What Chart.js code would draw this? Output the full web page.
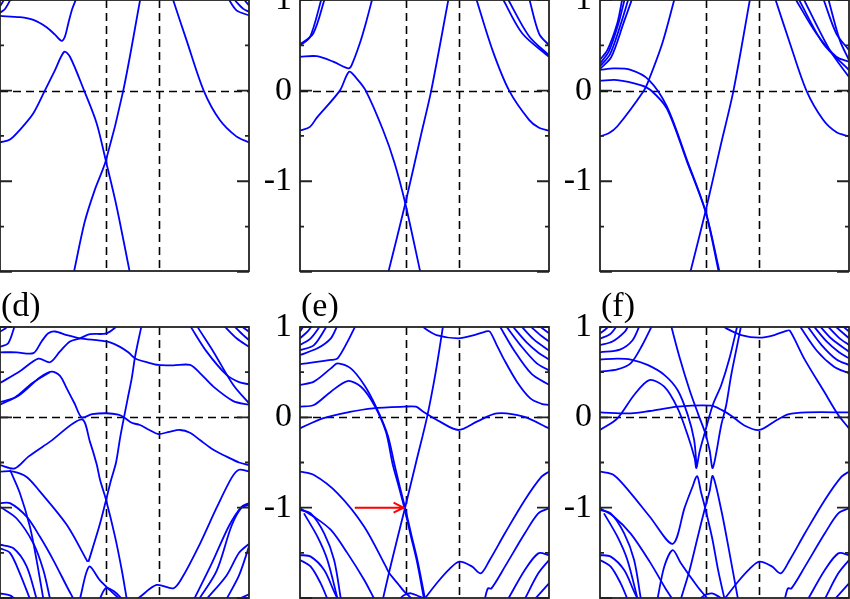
<!DOCTYPE html>
<html>
<head>
<meta charset="utf-8">
<script src="https://cdn.jsdelivr.net/npm/chart.js@4.4.1/dist/chart.umd.min.js"></script>
<style>
  html, body { margin: 0; padding: 0; background: #fff; }
  body { width: 850px; height: 599px; overflow: hidden; position: relative; }
  canvas { position: absolute; }
</style>
</head>
<body>
<script>
// k runs 0..1 along the path in every panel, energies in eV
const kLines = [0.426, 0.639];
const yTickLabels = [-1, 0, 1];
const yMajorTicks = [-2, -1, 0, 1];
const yMinorTicks = [-1.5, -0.5, 0.5];
const panelLabels = ['(a)', '(b)', '(c)', '(d)', '(e)', '(f)'];
const arrowTail = [0.22, -1.0];
const arrowTip = [0.416, -1.0];

// each band is a list of [k, E]
const bandsA = [
  [[0,0.824],[0.08,0.81],[0.134,0.78],[0.187,0.70],[0.22,0.62],[0.247,0.55],[0.26,0.59],[0.275,0.75],[0.29,0.90],[0.307,1.02]],
  [[0,-0.571],[0.04,-0.54],[0.08,-0.432],[0.134,-0.249],[0.18,0],[0.221,0.227],[0.258,0.429],[0.281,0.374],[0.338,0],[0.388,-0.359],[0.425,-0.773],[0.468,-1.275],[0.521,-2.0]],
  [[0.297,-2.0],[0.34,-1.45],[0.38,-1.1],[0.425,-0.773],[0.495,0],[0.564,1.02]],
  [[0.693,1.02],[0.749,0.557],[0.818,0],[0.882,-0.322],[0.949,-0.505],[1,-0.571]],
  [[0,0.86],[0.02,0.9],[0.045,1.02]],
  [[0,0.93],[0.02,1.02]],
  [[0.916,1.02],[0.95,0.886],[1,0.83]],
  [[0.936,1.02],[0.976,0.905],[1,0.87]],
  [[0.976,1.02],[1,0.94]]
];

const bandsB = [
  [[0,0.374],[0.067,0.38],[0.133,0.32],[0.193,0.245],[0.207,0.28],[0.24,0.52],[0.265,0.75],[0.291,1.02]],
  [[0,-0.44],[0.04,-0.40],[0.067,-0.3],[0.16,0],[0.197,0.209],[0.227,0.136],[0.264,0],[0.333,-0.432],[0.38,-0.8],[0.423,-1.245],[0.483,-2.0]],
  [[0.355,-2.0],[0.423,-1.245],[0.485,-0.5],[0.527,0],[0.597,1.02]],
  [[0.707,1.02],[0.773,0.447],[0.84,0],[0.92,-0.322],[0.96,-0.41],[1,-0.44]],
  [[0,0.50],[0.04,0.59],[0.087,1.02]],
  [[0,0.51],[0.053,0.63],[0.1,1.02]],
  [[0.813,1.02],[0.893,0.63],[1,0.374]],
  [[0.833,1.02],[0.92,0.6],[1,0.39]],
  [[0.92,1.02],[0.96,0.63],[1,0.50]]
];

const bandsC = [
  [[0,-0.505],[0.035,-0.47],[0.069,-0.396],[0.176,0],[0.196,0.117],[0.25,0.52],[0.30,1.02]],
  [[0,0.23],[0.056,0.245],[0.123,0.23],[0.196,0.12],[0.269,-0.176],[0.349,-0.762],[0.424,-1.33],[0.48,-2.0]],
  [[0,0.11],[0.069,0.117],[0.163,0.062],[0.203,0.007],[0.269,-0.20],[0.349,-0.78],[0.424,-1.34],[0.477,-2.0]],
  [[0.363,-2.0],[0.424,-1.33],[0.485,-0.6],[0.536,0],[0.603,1.02]],
  [[0.703,1.02],[0.763,0.52],[0.829,0],[0.896,-0.322],[0.95,-0.46],[1,-0.505]],
  [[0,0.34],[0.03,0.45],[0.07,0.75],[0.09,1.02]],
  [[0,0.30],[0.035,0.43],[0.075,0.75],[0.1,1.02]],
  [[0,0.27],[0.04,0.40],[0.085,0.75],[0.115,1.02]],
  [[0,0.24],[0.045,0.37],[0.095,0.75],[0.13,1.02]],
  [[0.783,1.02],[0.869,0.63],[0.949,0.374],[1,0.319]],
  [[0.796,1.02],[0.896,0.52],[1,0.227]],
  [[0.816,1.02],[0.923,0.447],[1,0.15]],
  [[0.896,1.02],[0.949,0.63],[1,0.447]],
  [[0.916,1.02],[0.963,0.557],[1,0.337]]
];

const bandsD = [
  [[0,0.72],[0.067,0.72],[0.134,0.71],[0.167,0.84],[0.194,0.93],[0.221,0.95],[0.268,0.91],[0.321,0.875],[0.402,0.85],[0.442,0.83],[0.482,0.78],[0.515,0.72],[0.539,0.66],[0.552,0.64],[0.589,0.61],[0.636,0.58],[0.696,0.575],[0.763,0.58],[0.803,0.49],[0.857,0.34],[0.937,0.18],[1,0.14]],
  [[0,0.38],[0.08,0.51],[0.154,0.65],[0.201,0.61],[0.241,0.73],[0.281,0.84],[0.321,0.875],[0.361,0.92],[0.428,0.93],[0.475,1.02]],
  [[0,0.78],[0.033,0.82],[0.06,1.02]],
  [[0,0.95],[0.02,0.98],[0.035,1.02]],
  [[0.569,1.02],[0.556,0.856],[0.542,0.664],[0.529,0.432],[0.513,0.21],[0.498,0],[0.482,-0.232],[0.466,-0.50],[0.446,-0.694],[0.426,-0.915],[0.402,-1.173],[0.378,-1.395],[0.355,-1.60]],
  [[0,-0.528],[0.06,-0.565],[0.114,-0.435],[0.201,-0.269],[0.328,-0.022],[0.361,-0.269],[0.388,-0.517],[0.402,-0.694],[0.426,-0.915],[0.462,-1.321],[0.489,-1.69],[0.509,-2.01]],
  [[0,0.14],[0.08,0.25],[0.16,0.44],[0.207,0.506],[0.241,0.46],[0.268,0.32],[0.30,0.15],[0.328,0.0],[0.37,0.035],[0.428,0.045],[0.475,0.03],[0.498,0],[0.529,-0.06],[0.562,-0.085],[0.60,-0.14],[0.636,-0.185],[0.68,-0.16],[0.723,-0.14],[0.763,-0.17],[0.803,-0.251],[0.857,-0.36],[0.91,-0.435],[0.96,-0.5],[1,-0.528]],
  [[0,0.17],[0.06,0.22],[0.13,0.38],[0.2,0.5]],
  [[0.763,1.02],[0.77,0.985],[0.83,0.727],[0.91,0.469],[0.96,0.39],[1,0.365]],
  [[0.79,1.02],[0.797,0.985],[0.857,0.727],[0.937,0.358],[1,0.155]],
  [[0.897,1.02],[0.95,0.875],[1,0.78]],
  [[0.937,1.02],[0.977,0.91],[1,0.856]],
  [[0.964,1.02],[1,0.948]],
  [[0,-0.60],[0.054,-0.60],[0.107,-0.66],[0.16,-0.82],[0.268,-1.19],[0.352,-1.60]],
  [[0.321,-2.01],[0.358,-1.653],[0.40,-1.80],[0.44,-1.91],[0.48,-2.01]],
  [[0.40,-2.01],[0.426,-1.89],[0.46,-1.93],[0.49,-2.01]],
  [[0,-0.95],[0.04,-0.95],[0.107,-1.1],[0.16,-1.32],[0.214,-1.58],[0.268,-1.87],[0.295,-2.01]],
  [[0,-0.99],[0.067,-1.12],[0.134,-1.395],[0.174,-1.69],[0.201,-2.01]],
  [[0.04,-0.58],[0.08,-0.84],[0.12,-1.21],[0.147,-1.58],[0.174,-2.01]],
  [[0,-1.41],[0.054,-1.45],[0.107,-1.65],[0.147,-2.01]],
  [[0,-1.45],[0.04,-1.5],[0.08,-1.73],[0.12,-2.01]],
  [[0,-1.95],[0.04,-1.97],[0.06,-2.01]],
  [[0.545,-2.01],[0.556,-2.0],[0.629,-1.856],[0.696,-1.893],[0.73,-1.782],[0.803,-1.40],[0.87,-1.0],[0.93,-0.67],[0.96,-0.58],[1,-0.60]],
  [[0.80,-2.01],[0.87,-1.7],[0.93,-1.2],[0.97,-1.0],[1,-0.97]],
  [[0.78,-2.01],[0.85,-1.62],[0.92,-1.2],[0.97,-0.99],[1,-0.95]],
  [[0.83,-2.01],[0.91,-1.75],[0.96,-1.5],[1,-1.40]],
  [[0.91,-2.01],[0.96,-1.75],[1,-1.43]],
  [[0.96,-2.01],[1,-1.96]]
];

const bandsE = [
  [[0,-0.122],[0.091,-0.011],[0.2,0.06],[0.293,0.10],[0.419,0.118],[0.466,0.118],[0.495,0.063],[0.562,-0.048],[0.636,-0.14],[0.71,-0.048],[0.79,0.044],[0.898,0.007],[1,-0.122]],
  [[0,0.358],[0.056,0.395],[0.124,0.542],[0.151,0.598],[0.204,0.542],[0.258,0.358],[0.305,0.118],[0.352,-0.196],[0.379,-0.517],[0.40,-0.76],[0.422,-1.0],[0.447,-1.3],[0.473,-1.6],[0.502,-2.01]],
  [[0,0.118],[0.056,0.137],[0.124,0.284],[0.191,0.402],[0.245,0.339],[0.298,0.137],[0.345,-0.159],[0.372,-0.517],[0.396,-0.76],[0.419,-1.0],[0.444,-1.3],[0.47,-1.6],[0.498,-2.01]],
  [[0,0.587],[0.124,0.635],[0.151,0.653],[0.191,0.838],[0.224,1.02]],
  [[0,0.69],[0.07,0.764],[0.124,0.875],[0.151,1.02]],
  [[0,0.745],[0.056,0.80],[0.11,1.02]],
  [[0,0.80],[0.043,0.875],[0.083,1.02]],
  [[0,0.875],[0.03,0.948],[0.05,1.02]],
  [[0,0.948],[0.016,1.02]],
  [[0.333,-2.01],[0.36,-1.69],[0.392,-1.33],[0.422,-1.0],[0.466,-0.5],[0.51,0],[0.545,0.5],[0.575,1.02]],
  [[0.49,1.02],[0.501,0.985],[0.548,0.911],[0.636,0.875],[0.70,0.911],[0.745,0.95],[0.762,0.95],[0.79,0.80],[0.817,0.653],[0.871,0.395],[0.925,0.21],[0.97,0.15],[1,0.137]],
  [[0.80,1.02],[0.86,0.74],[0.93,0.48],[1,0.36]],
  [[0.825,1.02],[0.885,0.80],[0.95,0.60],[1,0.52]],
  [[0.85,1.02],[0.91,0.83],[0.96,0.71],[1,0.64]],
  [[0.885,1.02],[0.94,0.86],[1,0.74]],
  [[0.92,1.02],[0.97,0.90],[1,0.84]],
  [[0.957,1.02],[1,0.93]],
  [[0,-0.601],[0.056,-0.638],[0.151,-0.841],[0.258,-1.21],[0.345,-1.653],[0.359,-1.727],[0.392,-1.838],[0.419,-1.93],[0.45,-2.01]],
  [[0,-1.007],[0.056,-1.1],[0.124,-1.247],[0.191,-1.506],[0.258,-1.801],[0.298,-2.01]],
  [[0,-1.026],[0.043,-1.063],[0.097,-1.284],[0.137,-1.579],[0.164,-2.01]],
  [[0.016,-1.063],[0.07,-1.321],[0.11,-1.579],[0.151,-2.01]],
  [[0,-1.524],[0.043,-1.542],[0.097,-1.69],[0.137,-1.93],[0.151,-2.01]],
  [[0,-1.579],[0.043,-1.653],[0.083,-1.838],[0.11,-2.01]],
  [[0.40,-2.01],[0.419,-1.967],[0.446,-1.948],[0.48,-1.985],[0.50,-2.01]],
  [[0.5,-2.01],[0.554,-1.82],[0.60,-1.68],[0.64,-1.598],[0.69,-1.65],[0.726,-1.727],[0.762,-1.579],[0.823,-1.284],[0.903,-0.915],[0.97,-0.657],[1,-0.601]],
  [[0.742,-2.01],[0.755,-1.893],[0.769,-1.893],[0.823,-1.653],[0.903,-1.284],[0.957,-1.063],[1,-1.007]],
  [[0.836,-2.01],[0.903,-1.69],[0.957,-1.506],[1,-1.524]],
  [[0.903,-2.01],[0.957,-1.727],[1,-1.579]],
  [[0.944,-2.01],[1,-1.838]]
];

const bandsF = [
  [[0,0.055],[0.124,0.044],[0.2,0.07],[0.312,0.118],[0.446,0.129],[0.49,0.08],[0.527,0.018],[0.58,-0.09],[0.64,-0.14],[0.71,-0.03],[0.755,0.033],[0.83,0.055],[1,0.055]],
  [[0,-0.14],[0.07,-0.011],[0.137,0.247],[0.198,0.413],[0.258,0.339],[0.312,0.10],[0.352,-0.196],[0.38,-0.45],[0.387,-0.56],[0.40,-0.38],[0.422,-0.159],[0.453,0.137],[0.487,0.358],[0.52,0.653],[0.552,1.02]],
  [[0,0.64],[0.07,0.65],[0.124,0.64],[0.191,0.58],[0.258,0.47],[0.312,0.30],[0.352,0.03],[0.378,-0.25],[0.388,-0.55]],
  [[0,0.506],[0.07,0.53],[0.124,0.60],[0.17,0.80],[0.21,1.02]],
  [[0.285,1.02],[0.32,0.66],[0.36,0.30],[0.395,0.03],[0.422,-0.17],[0.44,-0.36],[0.453,-0.56],[0.487,-0.085],[0.507,0.137],[0.527,0.469],[0.554,0.838],[0.567,1.02]],
  [[0,-0.601],[0.056,-0.64],[0.124,-0.841],[0.2,-1.1],[0.292,-1.40],[0.34,-1.0],[0.37,-0.78],[0.39,-0.65],[0.405,-0.82],[0.422,-1.0],[0.45,-1.33],[0.475,-1.70],[0.50,-2.01]],
  [[0.325,-2.01],[0.36,-1.69],[0.392,-1.33],[0.422,-1.0],[0.44,-0.82],[0.453,-0.65],[0.487,-1.026],[0.52,-1.5],[0.554,-2.01]],
  [[0.231,-2.01],[0.258,-1.653],[0.292,-1.47],[0.325,-1.616],[0.392,-1.875],[0.433,-2.01]],
  [[0.40,-2.01],[0.422,-1.967],[0.45,-1.95],[0.48,-1.99],[0.49,-2.01]],
  [[0.49,1.02],[0.507,0.985],[0.567,0.911],[0.64,0.882],[0.70,0.911],[0.745,0.955],[0.762,0.96],[0.82,0.65],[0.90,0.285],[0.957,0.025],[1,-0.122]],
  [[0,0.72],[0.08,0.75],[0.13,0.85],[0.16,1.02]],
  [[0,0.80],[0.05,0.84],[0.10,0.95],[0.115,1.02]],
  [[0,0.87],[0.04,0.92],[0.07,1.02]],
  [[0,0.93],[0.02,0.97],[0.04,1.02]],
  [[0,0.98],[0.01,1.02]],
  [[0.80,1.02],[0.87,0.74],[0.94,0.56],[1,0.487]],
  [[0.83,1.02],[0.89,0.80],[0.95,0.64],[1,0.579]],
  [[0.855,1.02],[0.91,0.84],[0.96,0.72],[1,0.653]],
  [[0.88,1.02],[0.93,0.87],[1,0.727]],
  [[0.91,1.02],[0.96,0.88],[1,0.80]],
  [[0.94,1.02],[1,0.875]],
  [[0.97,1.02],[1,0.95]],
  [[0,-1.007],[0.056,-1.1],[0.124,-1.29],[0.2,-1.6],[0.26,-1.88],[0.29,-2.01]],
  [[0,-1.026],[0.043,-1.063],[0.097,-1.284],[0.137,-1.579],[0.164,-2.01]],
  [[0.016,-1.063],[0.07,-1.321],[0.11,-1.579],[0.151,-2.01]],
  [[0,-1.524],[0.043,-1.542],[0.097,-1.69],[0.137,-1.93],[0.151,-2.01]],
  [[0,-1.579],[0.043,-1.653],[0.083,-1.838],[0.11,-2.01]],
  [[0.5,-2.01],[0.554,-1.82],[0.60,-1.68],[0.64,-1.598],[0.69,-1.65],[0.726,-1.727],[0.762,-1.579],[0.823,-1.284],[0.903,-0.915],[0.97,-0.657],[1,-0.601]],
  [[0.742,-2.01],[0.755,-1.893],[0.769,-1.893],[0.823,-1.653],[0.903,-1.284],[0.957,-1.063],[1,-1.007]],
  [[0.836,-2.01],[0.903,-1.69],[0.957,-1.506],[1,-1.524]],
  [[0.903,-2.01],[0.957,-1.727],[1,-1.579]],
  [[0.944,-2.01],[1,-1.838]]
];

// where each panel's plot box sits on the page
const panels = [
  { bands: bandsA, left: 0,   top: 0,   yMin: -1.99 },
  { bands: bandsB, left: 300, top: 0,   yMin: -1.99 },
  { bands: bandsC, left: 600, top: 0,   yMin: -1.99 },
  { bands: bandsD, left: 0,   top: 327, yMin: -2 },
  { bands: bandsE, left: 300, top: 327, yMin: -2, arrow: true },
  { bands: bandsF, left: 600, top: 327, yMin: -2 }
];

const padL = 60, padT = 40, padR = 10, padB = 36;
const plotW = 249, plotH = 271;
const serif = "'Liberation Serif', 'Times New Roman', serif";

// frame, inward ticks, dashed guide lines, panel label, arrow
const framePlugin = {
  id: 'frame',
  beforeDatasetsDraw(chart) {
    const { ctx, chartArea: a, scales: { x, y } } = chart;
    ctx.save();
    ctx.beginPath();
    ctx.rect(a.left, a.top, a.width, a.height);
    ctx.clip();
    ctx.strokeStyle = '#000';
    ctx.lineWidth = 1.6;
    ctx.setLineDash([8, 5]);
    ctx.beginPath();
    kLines.forEach(k => {
      const px = Math.round(x.getPixelForValue(k)) + 0.5;
      ctx.moveTo(px, a.top);
      ctx.lineTo(px, a.bottom);
    });
    const py0 = Math.round(y.getPixelForValue(0)) + 0.5;
    ctx.moveTo(a.left, py0);
    ctx.lineTo(a.right, py0);
    ctx.stroke();
    ctx.restore();
  },
  afterDatasetsDraw(chart, args, opts) {
    const { ctx, chartArea: a, scales: { x, y } } = chart;
    ctx.save();
    ctx.strokeStyle = '#222';
    ctx.lineWidth = 1.8;
    ctx.beginPath();
    yMajorTicks.forEach(v => {
      const py = y.getPixelForValue(v);
      ctx.moveTo(a.left, py); ctx.lineTo(a.left + 12, py);
      ctx.moveTo(a.right, py); ctx.lineTo(a.right - 12, py);
    });
    yMinorTicks.forEach(v => {
      const py = y.getPixelForValue(v);
      ctx.moveTo(a.left, py); ctx.lineTo(a.left + 4, py);
      ctx.moveTo(a.right, py); ctx.lineTo(a.right - 4, py);
    });
    ctx.stroke();
    ctx.strokeRect(a.left, a.top, a.width, a.height);

    if (opts.arrow) {
      const x0 = x.getPixelForValue(arrowTail[0]), y0 = y.getPixelForValue(arrowTail[1]);
      const x1 = x.getPixelForValue(arrowTip[0]), y1 = y.getPixelForValue(arrowTip[1]);
      ctx.strokeStyle = '#ff0000';
      ctx.lineWidth = 2;
      ctx.beginPath();
      ctx.moveTo(x0, y0); ctx.lineTo(x1, y1);
      ctx.moveTo(x1 - 10, y1 - 5); ctx.lineTo(x1, y1); ctx.lineTo(x1 - 10, y1 + 5);
      ctx.stroke();
    }

    ctx.fillStyle = '#000';
    ctx.font = '34px ' + serif;
    ctx.textAlign = 'left';
    ctx.textBaseline = 'alphabetic';
    ctx.fillText(opts.label, a.left + 1, a.top - 11);
    ctx.restore();
  }
};

panels.forEach((p, i) => {
  const cv = document.createElement('canvas');
  cv.width = padL + plotW + padR;
  cv.height = padT + plotH + padB;
  cv.style.left = (p.left - padL) + 'px';
  cv.style.top = (p.top - padT) + 'px';
  document.body.appendChild(cv);

  const datasets = p.bands.map(b => ({
    data: b.map(pt => ({ x: pt[0], y: pt[1] })),
    showLine: true,
    borderColor: '#0000ff',
    borderWidth: 1.8,
    pointRadius: 0,
    tension: 0.3,
    fill: false
  }));

  new Chart(cv.getContext('2d'), {
    type: 'scatter',
    data: { datasets: datasets },
    options: {
      responsive: false,
      animation: false,
      devicePixelRatio: 1,
      layout: { padding: { left: 0, top: padT, right: padR, bottom: padB } },
      plugins: {
        legend: { display: false },
        tooltip: { enabled: false },
        frame: { label: panelLabels[i], arrow: !!p.arrow }
      },
      scales: {
        x: { type: 'linear', min: 0, max: 1, display: false },
        y: {
          type: 'linear',
          min: p.yMin,
          max: 1,
          grid: { display: false, drawTicks: false },
          border: { display: false },
          afterBuildTicks: s => { s.ticks = yTickLabels.map(v => ({ value: v })); },
          afterFit: s => { s.width = padL; },
          ticks: {
            color: '#000',
            padding: 8,
            font: { family: serif, size: 34 },
            callback: v => String(v)
          }
        }
      }
    },
    plugins: [framePlugin]
  });
});
</script>
</body>
</html>
